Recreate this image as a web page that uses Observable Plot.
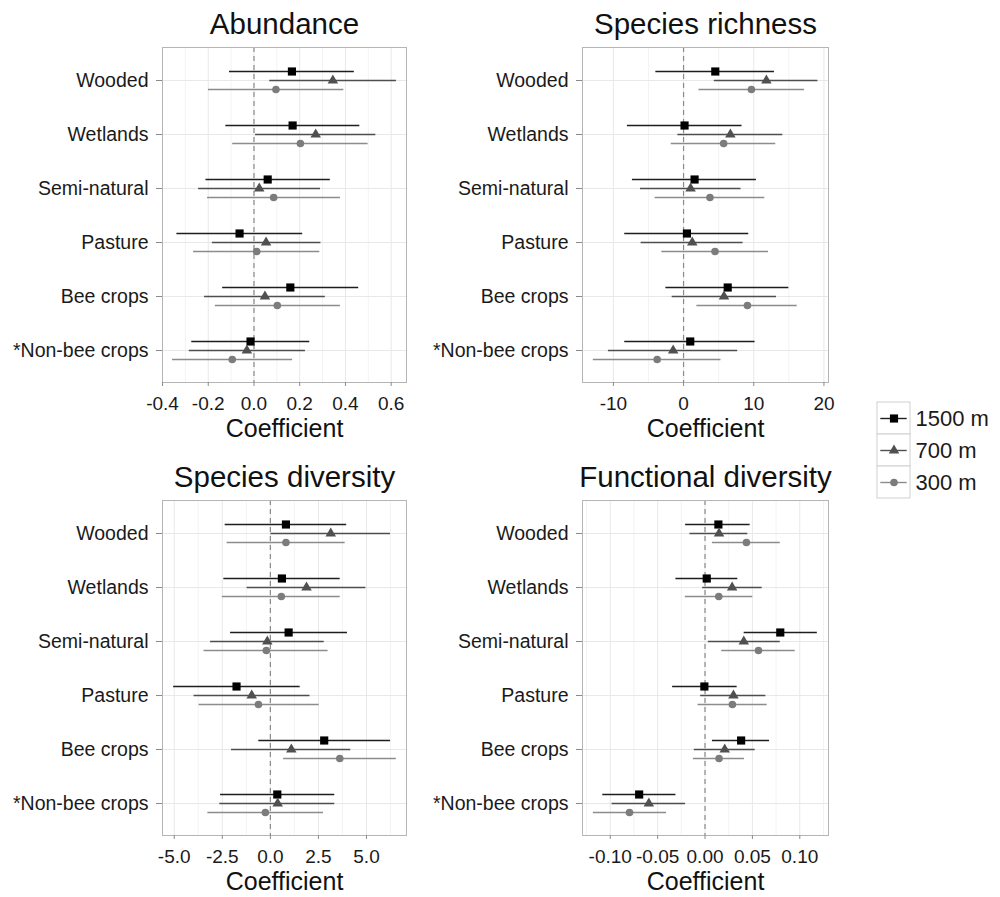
<!DOCTYPE html>
<html><head><meta charset="utf-8">
<script src="https://cdn.jsdelivr.net/npm/d3@7"></script>
<script src="https://cdn.jsdelivr.net/npm/@observablehq/plot@0.6"></script>
<style>
body{margin:0;background:#fff;}
#root{position:relative;width:1000px;height:897px;font-family:"Liberation Sans",Arial,sans-serif;overflow:hidden;}
.panel{position:absolute;}
</style></head><body><div id="root"></div>
<script>
// ---------- data ----------
const categories = ["Wooded","Wetlands","Semi-natural","Pasture","Bee crops","*Non-bee crops"];
const seriesNames = ["1500 m","700 m","300 m"];
const axisTitle = "Coefficient";

const abundanceTicks = [-0.4,-0.2,0,0.2,0.4,0.6];
const abundanceEst = [
  [0.166,0.169,0.060,-0.063,0.159,-0.015],
  [0.345,0.270,0.023,0.053,0.048,-0.031],
  [0.096,0.203,0.086,0.012,0.102,-0.095]];
const abundanceLo = [
  [-0.107,-0.123,-0.210,-0.337,-0.137,-0.272],
  [0.069,0.007,-0.242,-0.182,-0.216,-0.283],
  [-0.199,-0.093,-0.203,-0.264,-0.169,-0.356]];
const abundanceHi = [
  [0.439,0.463,0.334,0.213,0.458,0.244],
  [0.623,0.533,0.291,0.293,0.312,0.225],
  [0.393,0.499,0.378,0.288,0.378,0.169]];

const richnessTicks = [-10,0,10,20];
const richnessEst = [
  [4.52,0.14,1.57,0.48,6.29,0.95],
  [11.8,6.67,1.0,1.24,5.76,-1.48],
  [9.67,5.71,3.76,4.48,9.1,-3.76]];
const richnessLo = [
  [-3.95,-8.0,-7.29,-8.38,-2.52,-8.38],
  [4.38,-0.81,-6.14,-6.05,-1.62,-10.71],
  [2.19,-1.76,-4.05,-3.1,1.9,-12.86]];
const richnessHi = [
  [12.95,8.33,10.38,9.29,15.0,10.19],
  [19.14,14.14,8.19,8.48,13.24,7.71],
  [17.24,13.14,11.57,12.1,16.19,5.33]];

const diversityTicks = [-5,-2.5,0,2.5,5];
const diversityEst = [
  [0.81,0.60,0.95,-1.76,2.80,0.36],
  [3.14,1.88,-0.16,-0.97,1.09,0.38],
  [0.81,0.57,-0.21,-0.62,3.61,-0.26]];
const diversityLo = [
  [-2.35,-2.42,-2.07,-5.03,-0.6,-2.59],
  [0.03,-1.21,-3.11,-3.97,-2.02,-2.63],
  [-2.25,-2.5,-3.45,-3.71,0.69,-3.25]];
const diversityHi = [
  [3.97,3.63,4.01,1.55,6.25,3.35],
  [6.25,4.97,2.80,2.06,4.18,3.35],
  [3.89,3.63,3.0,2.54,6.55,2.76]];

const functionalTicks = [-0.10,-0.05,0,0.05,0.10];
const functionalEst = [
  [0.0141,0.0018,0.0794,-0.0007,0.0381,-0.0695],
  [0.0148,0.0286,0.0409,0.030,0.0208,-0.0593],
  [0.0437,0.0145,0.0564,0.0289,0.0148,-0.0797]];
const functionalLo = [
  [-0.0205,-0.0307,0.0413,-0.0342,0.0078,-0.1079],
  [-0.0159,-0.0025,0.0035,-0.0046,-0.0113,-0.0981],
  [0.0078,-0.0208,0.0176,-0.0074,-0.0123,-0.1178]];
const functionalHi = [
  [0.0476,0.0346,0.1185,0.0339,0.0681,-0.0307],
  [0.0451,0.0603,0.0794,0.0642,0.0529,-0.0205],
  [0.0794,0.0504,0.0952,0.0656,0.0416,-0.0406]];

// ---------- styles ----------
const FONT = "Liberation Sans, Arial, Helvetica, sans-serif";
const seriesStyle = [
  {symbol:"square",   r:4.6, fill:"#000000", line:"#1e1e1e", dy:-9},
  {symbol:"triangle", r:3.9, fill:"#505050", line:"#4e4e4e", dy:0},
  {symbol:"circle",   r:3.8, fill:"#7c7c7c", line:"#8c8c8c", dy:9}
];

const panels = [
  {title:"Abundance", est:abundanceEst, lo:abundanceLo, hi:abundanceHi, ticks:abundanceTicks,
   fmt:d=>d.toFixed(1), domain:[-0.40,0.667], left:0, top:0, mr:14},
  {title:"Species richness", est:richnessEst, lo:richnessLo, hi:richnessHi, ticks:richnessTicks,
   fmt:d=>d.toFixed(0), domain:[-14.4,20.65], left:420, top:0, mr:12},
  {title:"Species diversity", est:diversityEst, lo:diversityLo, hi:diversityHi, ticks:diversityTicks,
   fmt:d=>d.toFixed(1), domain:[-5.61,7.08], left:0, top:453, mr:14},
  {title:"Functional diversity", est:functionalEst, lo:functionalLo, hi:functionalHi, ticks:functionalTicks,
   fmt:d=>d.toFixed(2), domain:[-0.1293,0.1303], left:420, top:453, mr:12}
];

function minorTicks(ticks, domain) {
  const step = ticks[1]-ticks[0];
  const out = [];
  for (let i = 0; i < ticks.length-1; i++) out.push((ticks[i]+ticks[i+1])/2);
  const lo = ticks[0]-step/2, hi = ticks[ticks.length-1]+step/2;
  if (lo >= domain[0]) out.unshift(lo);
  if (hi <= domain[1]) out.push(hi);
  return out;
}

const root = document.getElementById("root");

for (const p of panels) {
  const rows = [];
  seriesNames.forEach((s, si) => categories.forEach((c, ci) => {
    rows.push({series:s, si, cat:c, est:p.est[si][ci], lo:p.lo[si][ci], hi:p.hi[si][ci]});
  }));
  const marks = [
    Plot.gridX({ticks: minorTicks(p.ticks, p.domain), stroke:"#f3f3f3", strokeOpacity:1, strokeWidth:1}),
    Plot.gridX({ticks: p.ticks, stroke:"#e8e8e8", strokeOpacity:1, strokeWidth:1}),
    Plot.gridY({stroke:"#e8e8e8", strokeOpacity:1, strokeWidth:1}),
    Plot.ruleX([0], {stroke:"#8a8a8a", strokeWidth:1.2, strokeDasharray:"5,4"}),
    Plot.frame({stroke:"#b5b5b5", strokeWidth:1}),
    Plot.axisX({ticks:p.ticks, tickFormat:p.fmt, tickSize:4, tickPadding:10, fontSize:19,
                stroke:"#8a8a8a", fill:"#1a1a1a", label:null}),
    Plot.axisY({tickSize:6, tickPadding:8, fontSize:19.5, stroke:"#8a8a8a", fill:"#1a1a1a", label:null}),
    Plot.text([p.title], {frameAnchor:"top", dy:-14, lineAnchor:"bottom", fontSize:29.5, fill:"#111"}),
    Plot.text([axisTitle], {frameAnchor:"bottom", dy:54, lineAnchor:"bottom", fontSize:25, fill:"#111"})
  ];
  seriesStyle.forEach((st, si) => {
    const sub = rows.filter(r => r.si === si);
    marks.push(Plot.ruleY(sub, {y:"cat", x1:"lo", x2:"hi", dy:st.dy, stroke:st.line, strokeWidth:1.4}));
  });
  seriesStyle.forEach((st, si) => {
    const sub = rows.filter(r => r.si === si);
    marks.push(Plot.dot(sub, {x:"est", y:"cat", dy:st.dy, symbol:st.symbol, r:st.r, fill:st.fill, stroke:"none"}));
  });
  const svg = Plot.plot({
    width:420, height:444,
    marginLeft:162, marginRight:p.mr, marginTop:47, marginBottom:62,
    style:{fontFamily:FONT, fontSize:"19.5px", color:"#1a1a1a", background:"transparent", overflow:"visible"},
    x:{domain:p.domain, label:null},
    y:{type:"point", domain:categories, padding:0.6, label:null},
    marks
  });
  const wrap = document.createElement("div");
  wrap.className = "panel";
  wrap.style.left = p.left + "px";
  wrap.style.top = p.top + "px";
  wrap.appendChild(svg);
  root.appendChild(wrap);
}

// ---------- legend ----------
{
  const legMarks = [
    Plot.barX(seriesNames, {y:d=>d, x1:0, x2:1, fill:"white", stroke:"#d0d0d0", strokeWidth:1})
  ];
  seriesStyle.forEach((st, si) => {
    const s = [seriesNames[si]];
    legMarks.push(Plot.ruleY(s, {y:d=>d, x1:0.1, x2:0.9, stroke:st.line, strokeWidth:1.4}));
    legMarks.push(Plot.dot(s, {y:d=>d, x:0.5, symbol:st.symbol, r:st.r, fill:st.fill, stroke:"none"}));
  });
  legMarks.push(Plot.text(seriesNames, {y:d=>d, x:1, text:d=>d, dx:5, textAnchor:"start", fontSize:22, fill:"#1a1a1a"}));
  const leg = Plot.plot({
    width:140, height:110,
    marginLeft:17, marginRight:90, marginTop:7, marginBottom:7,
    style:{fontFamily:FONT, background:"transparent", overflow:"visible"},
    x:{domain:[0,1], axis:null},
    y:{type:"band", domain:seriesNames, padding:0, axis:null},
    marks: legMarks
  });
  const wrap = document.createElement("div");
  wrap.className = "panel";
  wrap.style.left = "860px";
  wrap.style.top = "395px";
  wrap.appendChild(leg);
  root.appendChild(wrap);
}
</script></body></html>
